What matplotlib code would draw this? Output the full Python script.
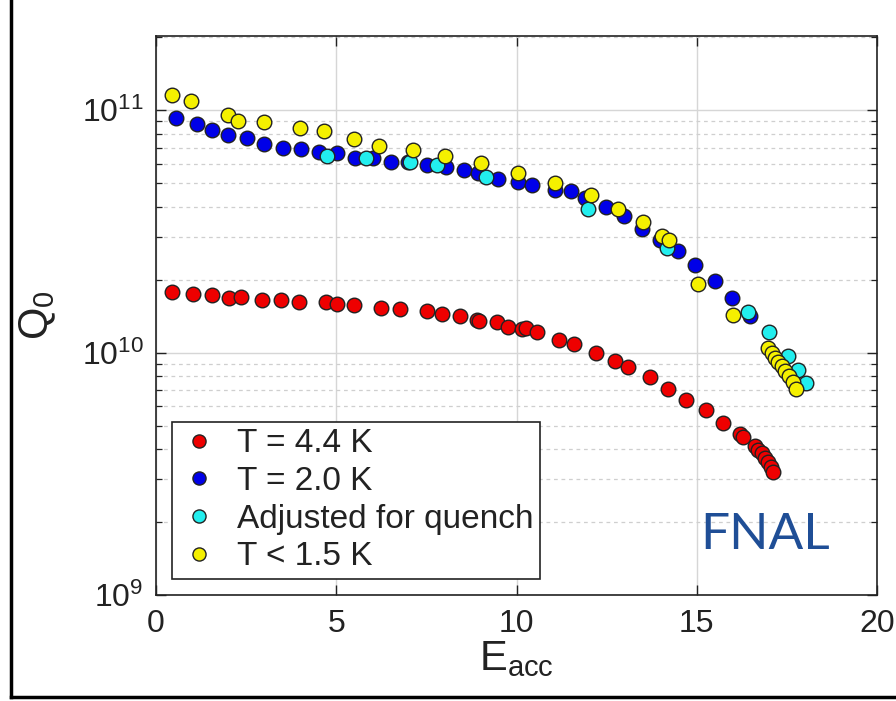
import matplotlib
matplotlib.use("Agg")
import matplotlib.pyplot as plt
from matplotlib.lines import Line2D
from matplotlib.ticker import FixedLocator, FixedFormatter, LogLocator, NullFormatter

# ---------------- data ----------------
e_44 = [0.45, 1.02, 1.54, 2.03, 2.35, 2.95, 3.47, 3.98, 4.72, 5.03, 5.49, 6.23, 6.77,
        7.51, 7.93, 8.44, 8.90, 8.95, 9.46, 9.76, 10.14, 10.25, 10.56, 11.17, 11.60,
        12.21, 12.73, 13.10, 13.70, 14.20, 14.70, 15.26, 15.72, 16.20, 16.27, 16.62,
        16.71, 16.80, 16.89, 16.98, 17.05, 17.11]
q_44 = [1.77e10, 1.75e10, 1.72e10, 1.68e10, 1.69e10, 1.64e10, 1.64e10, 1.62e10, 1.62e10,
        1.59e10, 1.57e10, 1.53e10, 1.51e10, 1.48e10, 1.44e10, 1.42e10, 1.36e10, 1.35e10,
        1.33e10, 1.28e10, 1.25e10, 1.26e10, 1.21e10, 1.13e10, 1.08e10, 9.97e9, 9.2e9,
        8.7e9, 7.96e9, 7.1e9, 6.4e9, 5.77e9, 5.14e9, 4.60e9, 4.50e9, 4.11e9, 3.96e9,
        3.84e9, 3.69e9, 3.52e9, 3.36e9, 3.22e9]

e_20 = [0.55, 1.13, 1.54, 2.01, 2.52, 3.00, 3.51, 4.02, 4.53, 5.01, 5.52, 6.01, 6.52,
        7.00, 7.51, 8.04, 8.55, 8.94, 9.50, 10.03, 10.43, 11.07, 11.50, 11.90, 12.48,
        12.99, 13.47, 13.98, 14.47, 14.95, 15.51, 15.97, 16.48]
q_20 = [9.3e10, 8.73e10, 8.28e10, 7.9e10, 7.65e10, 7.22e10, 6.95e10, 6.89e10, 6.74e10,
        6.67e10, 6.32e10, 6.32e10, 6.13e10, 6.13e10, 5.94e10, 5.8e10, 5.67e10, 5.49e10,
        5.2e10, 5.07e10, 4.91e10, 4.69e10, 4.62e10, 4.33e10, 4.0e10, 3.64e10, 3.23e10,
        2.92e10, 2.61e10, 2.30e10, 1.97e10, 1.68e10, 1.41e10]

e_adj = [4.73, 5.83, 7.05, 7.80, 9.15, 11.97, 14.18, 16.43, 17.00, 17.52, 17.80, 18.03]
q_adj = [6.47e10, 6.32e10, 6.13e10, 5.91e10, 5.32e10, 3.90e10, 2.70e10, 1.47e10,
         1.21e10, 9.66e9, 8.51e9, 7.5e9]

e_15 = [0.45, 0.96, 2.01, 2.28, 3.00, 3.99, 4.67, 5.49, 6.19, 7.14, 8.02, 9.01, 10.03,
        11.07, 12.07, 12.82, 13.52, 14.03, 14.24, 15.03, 16.01, 16.98, 17.08, 17.17,
        17.26, 17.36, 17.45, 17.57, 17.66, 17.75]
q_15 = [1.15e11, 1.09e11, 9.53e10, 9.04e10, 8.9e10, 8.46e10, 8.2e10, 7.58e10, 7.1e10,
        6.84e10, 6.47e10, 6.04e10, 5.52e10, 4.99e10, 4.47e10, 3.90e10, 3.44e10, 3.03e10,
        2.92e10, 1.92e10, 1.43e10, 1.04e10, 9.97e9, 9.52e9, 9.12e9, 8.79e9, 8.38e9,
        7.98e9, 7.55e9, 7.08e9]

labels = ["T = 4.4 K", "T = 2.0 K", "Adjusted for quench", "T < 1.5 K"]
x_ticks = [0, 5, 10, 15, 20]
y_ticks = [1e9, 1e10, 1e11]
y_tick_labels = [r"$\mathregular{10^{9}}$", r"$\mathregular{10^{10}}$", r"$\mathregular{10^{11}}$"]

# ---------------- styling ----------------
plt.rcParams["font.family"] = ["Liberation Sans", "DejaVu Sans"]
plt.rcParams["mathtext.fontset"] = "custom"
plt.rcParams["mathtext.rm"] = "Liberation Sans"

fig = plt.figure(figsize=(8.96, 7.01), dpi=100)
ax = fig.add_axes([156 / 896, 1 - 595 / 701, (877 - 156) / 896, (595 - 36) / 701])

ax.set_yscale("log")
ax.set_xlim(0, 20)
ax.set_ylim(1e9, 2.02e11)

# grid
ax.set_axisbelow(True)
ax.grid(True, which="major", axis="both", color="#d6d6d6", linewidth=1.0, linestyle="-")
ax.grid(True, which="minor", axis="y", color="#cfcfcf", linewidth=0.9, linestyle=(0, (3, 3)))

ms = 10.5
ax.plot(e_44, q_44, "o", ls="none", ms=ms, mfc="#ee0000", mec="#222222", mew=1.0, label=labels[0], zorder=3)
ax.plot(e_20, q_20, "o", ls="none", ms=ms, mfc="#0000e8", mec="#222222", mew=1.0, label=labels[1], zorder=3)
ax.plot(e_adj, q_adj, "o", ls="none", ms=ms, mfc="#22eeee", mec="#222222", mew=1.0, label=labels[2], zorder=4)
ax.plot(e_15, q_15, "o", ls="none", ms=ms, mfc="#f5f000", mec="#222222", mew=1.0, label=labels[3], zorder=5)

# ticks
ax.xaxis.set_major_locator(FixedLocator(x_ticks))
ax.set_xticklabels([str(t) for t in x_ticks])
ax.yaxis.set_major_locator(FixedLocator(y_ticks))
ax.yaxis.set_major_formatter(FixedFormatter(y_tick_labels))
ax.yaxis.set_minor_locator(LogLocator(base=10, subs=range(2, 10)))
ax.yaxis.set_minor_formatter(NullFormatter())
ax.tick_params(which="both", direction="in", top=True, right=True, colors="#222222",
               labelcolor="#222222")
ax.tick_params(which="major", length=7, width=1.0, labelsize=23)
ax.tick_params(which="minor", length=4, width=0.9)
ax.tick_params(axis="x", pad=10)
ax.tick_params(axis="y", pad=9)
for s in ax.spines.values():
    s.set_color("#222222")
    s.set_linewidth(1.2)

ax.set_xlabel(r"E$_\mathregular{acc}$", fontsize=30, color="#222222", labelpad=0)
ax.set_ylabel(r"Q$_\mathregular{0}$", fontsize=30, color="#222222", labelpad=17)

leg = ax.legend(loc="lower left", bbox_to_anchor=(16 / 721, 16 / 559), fontsize=24,
                frameon=True, fancybox=False, edgecolor="#222222", framealpha=1,
                handletextpad=0.55, borderpad=0.2, labelspacing=0.2, markerscale=0.9,
                handlelength=1.2, borderaxespad=0)
leg.get_frame().set_linewidth(1.2)
for t in leg.get_texts():
    t.set_color("#222222")

fig.text(765 / 896, 1 - 535 / 701, "FNAL", fontsize=37, color="#1f4e96",
         family=["Lato", "DejaVu Sans"], ha="center", va="center")

# slide frame lines
fig.add_artist(Line2D([11 / 896, 11 / 896], [0.005, 1.0], color="black", lw=2.5,
                      transform=fig.transFigure))
fig.add_artist(Line2D([11 / 896, 1.0], [4 / 701, 4 / 701], color="black", lw=2.5,
                      transform=fig.transFigure))

fig.savefig("out.png", dpi=100)
